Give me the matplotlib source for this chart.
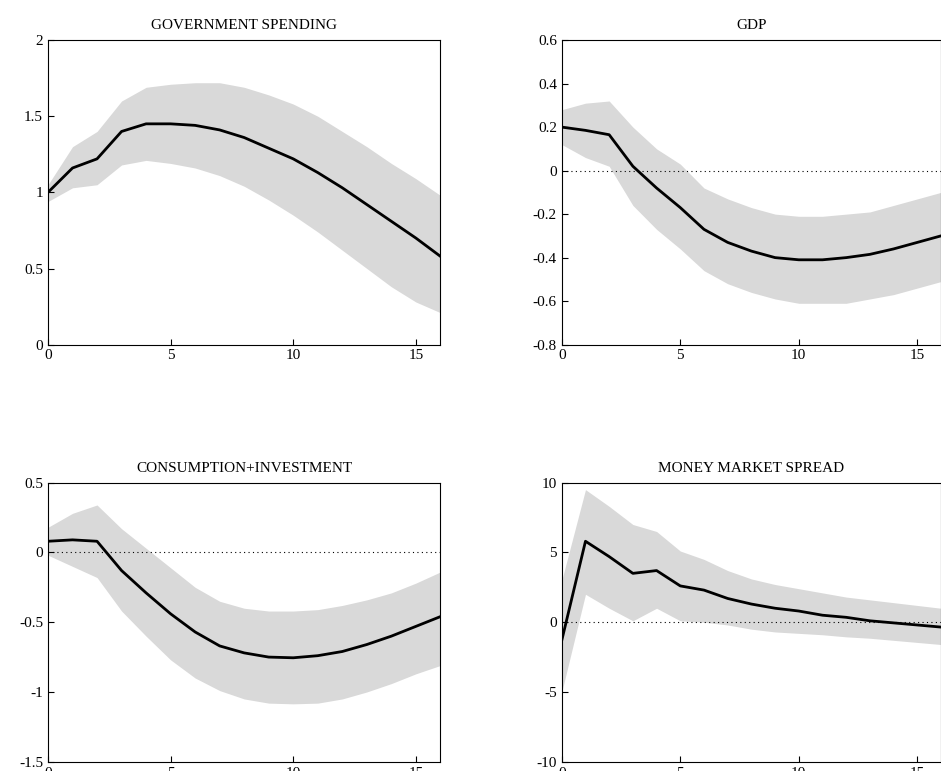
import matplotlib
matplotlib.use("Agg")
import matplotlib.pyplot as plt

plt.rcParams['font.family'] = ['Liberation Serif', 'DejaVu Serif']
plt.rcParams['font.size'] = 11

x = list(range(17))
titles = ["GOVERNMENT SPENDING", "GDP", "CONSUMPTION+INVESTMENT", "MONEY MARKET SPREAD"]

gov = [1.0,1.16,1.22,1.40,1.45,1.45,1.44,1.41,1.36,1.29,1.22,1.13,1.03,0.92,0.81,0.70,0.58]
gov_hi = [1.05,1.30,1.40,1.60,1.69,1.71,1.72,1.72,1.69,1.64,1.58,1.50,1.40,1.30,1.19,1.09,0.98]
gov_lo = [0.94,1.03,1.05,1.18,1.21,1.19,1.16,1.11,1.04,0.95,0.85,0.74,0.62,0.50,0.38,0.28,0.21]

gdp = [0.20,0.185,0.165,0.02,-0.08,-0.17,-0.27,-0.33,-0.37,-0.40,-0.41,-0.41,-0.40,-0.385,-0.36,-0.33,-0.30]
gdp_hi = [0.28,0.31,0.32,0.20,0.10,0.03,-0.08,-0.13,-0.17,-0.20,-0.21,-0.21,-0.20,-0.19,-0.16,-0.13,-0.10]
gdp_lo = [0.12,0.06,0.02,-0.16,-0.27,-0.36,-0.46,-0.52,-0.56,-0.59,-0.61,-0.61,-0.61,-0.59,-0.57,-0.54,-0.51]

ci = [0.08,0.09,0.08,-0.13,-0.29,-0.44,-0.57,-0.67,-0.72,-0.75,-0.755,-0.74,-0.71,-0.66,-0.60,-0.53,-0.46]
ci_hi = [0.18,0.28,0.34,0.17,0.03,-0.11,-0.25,-0.35,-0.40,-0.42,-0.42,-0.41,-0.38,-0.34,-0.29,-0.22,-0.14]
ci_lo = [-0.02,-0.10,-0.18,-0.42,-0.60,-0.77,-0.90,-0.99,-1.05,-1.08,-1.085,-1.08,-1.05,-1.00,-0.94,-0.87,-0.81]

mms = [-1.3,5.8,4.7,3.5,3.7,2.6,2.3,1.7,1.3,1.0,0.8,0.5,0.35,0.1,-0.05,-0.2,-0.35]
mms_hi = [3.0,9.5,8.3,7.0,6.5,5.1,4.5,3.7,3.1,2.7,2.4,2.1,1.8,1.6,1.4,1.2,1.0]
mms_lo = [-5.0,2.0,1.0,0.1,1.0,0.1,0.0,-0.2,-0.5,-0.7,-0.8,-0.9,-1.05,-1.15,-1.3,-1.45,-1.6]

series = [(gov, gov_hi, gov_lo), (gdp, gdp_hi, gdp_lo), (ci, ci_hi, ci_lo), (mms, mms_hi, mms_lo)]
ylims = [(0, 2), (-0.8, 0.6), (-1.5, 0.5), (-10, 10)]
yticks = [[0, 0.5, 1, 1.5, 2], [-0.8,-0.6,-0.4,-0.2,0,0.2,0.4,0.6], [-1.5,-1,-0.5,0,0.5], [-10,-5,0,5,10]]
zero_line = [False, True, True, True]

fig = plt.figure(figsize=(9.41, 7.71), dpi=100)
rects = [(0.051, 0.553, 0.417, 0.395), (0.597, 0.553, 0.403, 0.395),
         (0.051, 0.012, 0.417, 0.362), (0.597, 0.012, 0.403, 0.362)]
for i in range(4):
    ax = fig.add_axes(rects[i])
    m, hi, lo = series[i]
    ax.fill_between(x, lo, hi, color='#d9d9d9', linewidth=0)
    if zero_line[i]:
        ax.axhline(0, color='black', linestyle=(0, (1, 3)), linewidth=0.8)
    ax.plot(x, m, color='black', linewidth=2)
    ax.set_xlim(0, 16)
    ax.set_ylim(*ylims[i])
    ax.set_xticks([0, 5, 10, 15])
    ax.set_yticks(yticks[i])
    ax.set_yticklabels([f"{v:g}" for v in yticks[i]])
    ax.tick_params(direction='in', length=4, top=False, right=False, labelsize=11)
    ax.set_title(titles[i], fontsize=11, pad=8)

fig.savefig("out.png", dpi=100)
